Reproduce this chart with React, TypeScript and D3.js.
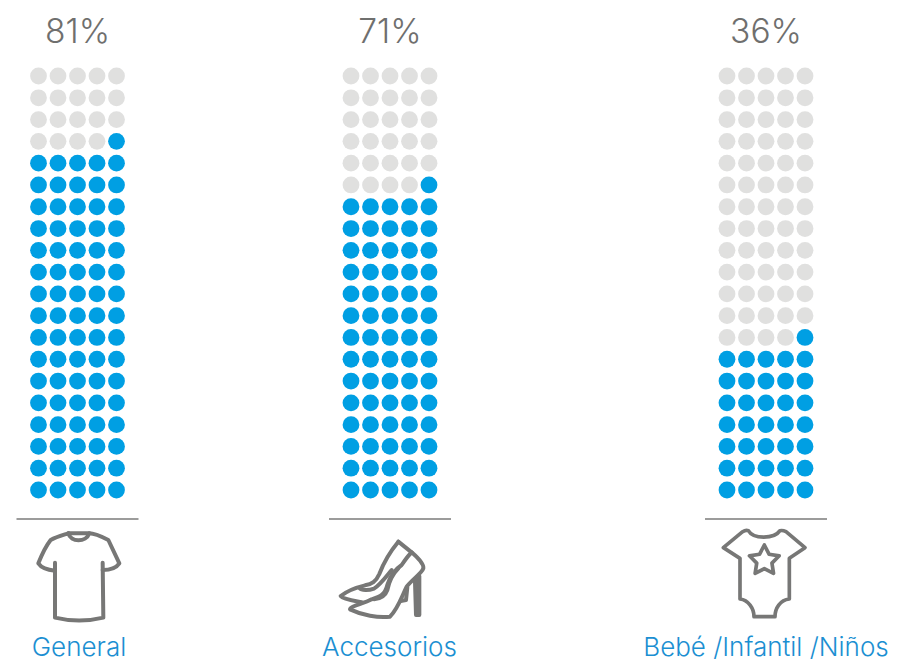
import React from "react";
import * as d3 from "d3";

const categories = ["General", "Accesorios", "Bebé /Infantil /Niños"];
const percentages = [81, 71, 36];
const groupCentres = [77.5, 390, 766];
const labelCentres = [79, 389.5, 766];

const ROWS = 20;
const COLUMNS = 5;

const BLUE = "#009fe3";
const EMPTY = "#e0e0df";
const INK = "#6f6f6e";
const LABEL = "#1b8fd2";
const RULE = "#9c9c9b";
const FONT = "Inter, 'Noto Sans', sans-serif";

// Outline icons, drawn at three times their size on a shared 300px-wide cell.
const teePaths = [
  "M205,100 C212,128 258,128 268,100 C285,100 305,110 325,120 L358,190 C348,205 330,210 308,210",
  "M205,100 C190,105 170,110 152,120 C140,135 125,165 115,190 C125,205 145,210 165,212",
  "M205,100 L268,100",
  "M165,188 L165,353 C210,364 265,364 310,353 L308,188",
];
const shoePaths = [
  "M295,125 C270,155 250,190 238,222 C228,245 215,252 195,256 C170,262 140,274 122,288 C130,298 160,302 185,307",
  "M295,125 L335,157",
  "M178,264 C185,272 205,272 222,266 C240,255 262,225 275,210",
  "M335,157 C350,170 372,190 370,205 C365,220 335,240 320,260 C305,290 295,325 270,350 C235,355 185,345 150,328 C150,318 190,312 215,298 C240,290 255,285 262,255 C272,225 290,205 305,195 C315,180 325,165 335,157 Z",
  "M222,298 C240,296 255,290 262,270 C268,240 280,220 295,205",
  "M322,262 L318,300 L302,303",
];
const heelPath = "M345,245 L348,345 L358,345 L358,228 Z";
const bodysuitPaths = [
  "M355,92 C370,118 432,118 450,92 C458,90 462,92 468,95 L525,143 L478,175 L478,297 C450,300 435,325 435,350 L372,350 C372,325 355,300 330,297 L330,175 L280,143 L338,95 C344,91 350,90 355,92 Z",
];
const starPath = d3
  .range(10)
  .map((i) => {
    const radius = i % 2 === 0 ? 47 : 24;
    const angle = (i * Math.PI) / 5 - Math.PI / 2;
    return `${i === 0 ? "M" : "L"}${403 + radius * Math.cos(angle)},${182 + radius * Math.sin(angle)}`;
  })
  .join("") + "Z";

const iconSets = [
  { origin: [0, 500], paths: teePaths, solid: null, weight: 12 },
  { origin: [300, 500], paths: shoePaths, solid: heelPath, weight: 12 },
  { origin: [630, 500], paths: [...bodysuitPaths, starPath], solid: null, weight: 11 },
];

const yScale = d3.scalePoint<number>().domain(d3.range(ROWS)).range([490, 76]);
const xOffset = d3
  .scalePoint<number>()
  .domain(d3.range(COLUMNS))
  .range([-39, 39]);

export default function App() {
  return (
    <svg
      width={897}
      height={663}
      style={{ position: "absolute", left: 0, top: 0, background: "#fff" }}
    >
      {categories.map((name, g) => {
        const centre = groupCentres[g];
        const value = percentages[g];
        const fullRows = Math.floor(value / COLUMNS);
        const remainder = value % COLUMNS;
        const icon = iconSets[g];
        return (
          <g key={name}>
            <text
              x={centre}
              y={43}
              textAnchor="middle"
              fontFamily={FONT}
              fontSize={33.5}
              fontWeight={300}
              fill={INK}
            >
              {value}%
            </text>
            {d3.range(ROWS).map((row) =>
              d3.range(COLUMNS).map((col) => {
                // Dots fill row by row from the bottom, right to left.
                const filled =
                  row < fullRows ||
                  (row === fullRows && col >= COLUMNS - remainder);
                return (
                  <circle
                    key={`${row}-${col}`}
                    cx={centre + (xOffset(col) as number)}
                    cy={yScale(row) as number}
                    r={8.4}
                    fill={filled ? BLUE : EMPTY}
                  />
                );
              })
            )}
            <line
              x1={centre - 61}
              x2={centre + 61}
              y1={519}
              y2={519}
              stroke={RULE}
              strokeWidth={2}
            />
            <g
              transform={`translate(${icon.origin[0]},${icon.origin[1]}) scale(${1 / 3})`}
              fill="none"
              stroke="#777776"
              strokeWidth={icon.weight}
              strokeLinejoin="round"
              strokeLinecap="round"
            >
              {icon.paths.map((d, i) => (
                <path key={i} d={d} />
              ))}
              {icon.solid && <path d={icon.solid} fill="#777776" />}
            </g>
            <text
              x={labelCentres[g]}
              y={656}
              textAnchor="middle"
              fontFamily={FONT}
              fontSize={26}
              fontWeight={300}
              fill={LABEL}
            >
              {name}
            </text>
          </g>
        );
      })}
    </svg>
  );
}
